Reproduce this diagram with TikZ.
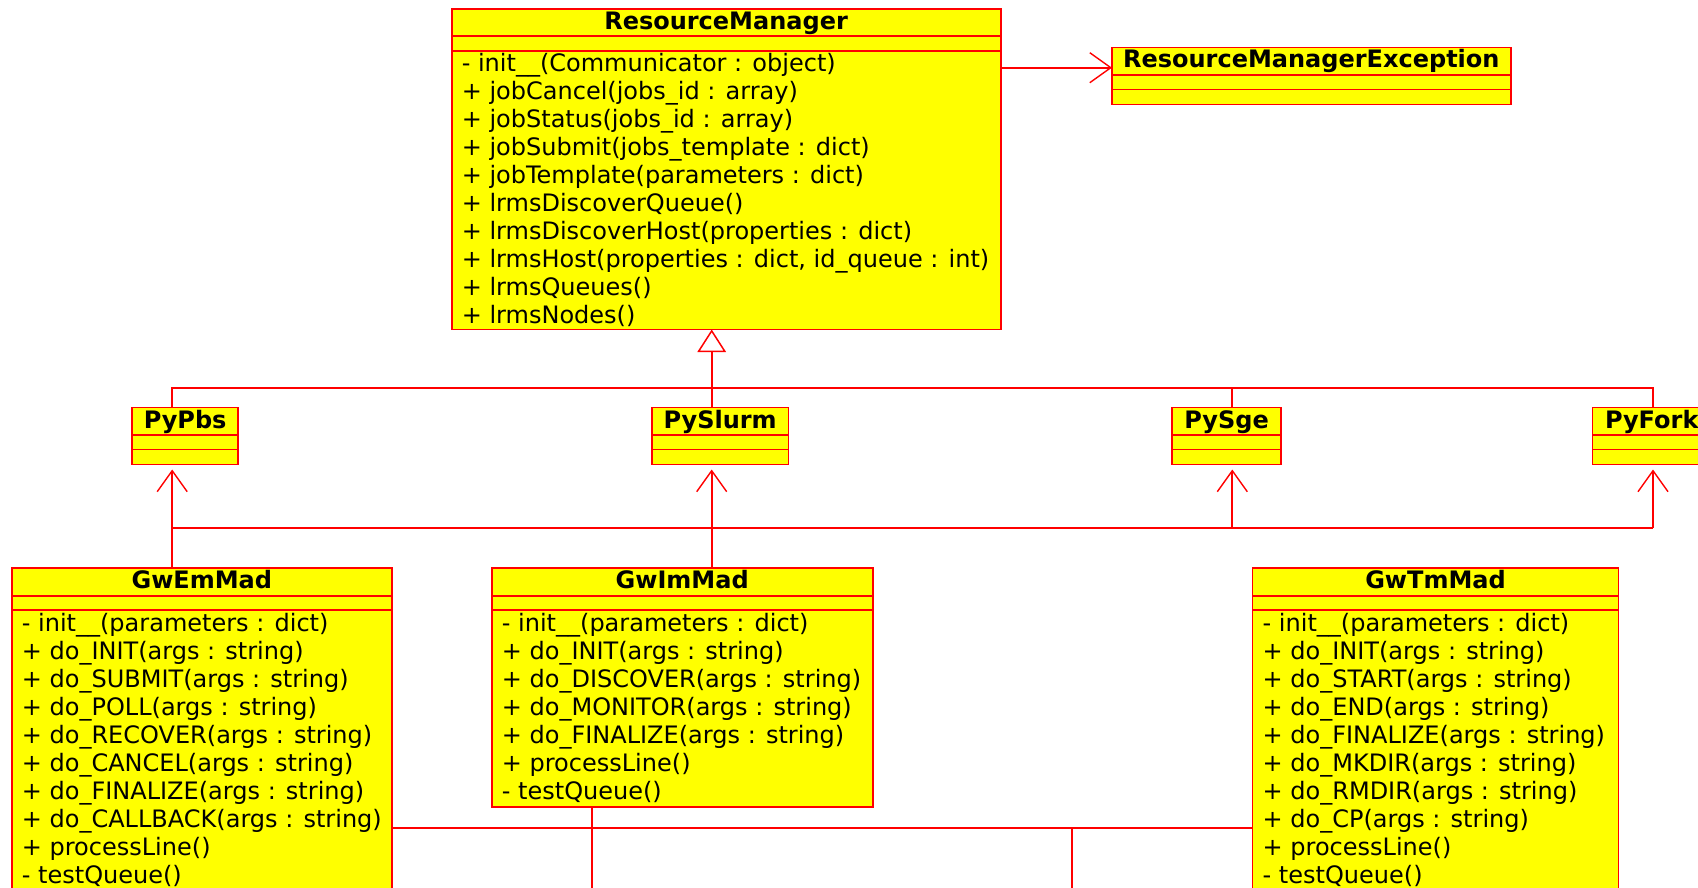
\documentclass[tikz,border=0pt]{standalone}
\usepackage{fontspec}
\setmainfont{DejaVu Sans}
\usetikzlibrary{arrows.meta,calc}
\definecolor{umlred}{RGB}{255,0,0}
\definecolor{umlyellow}{RGB}{255,255,0}

% One UML class: name, left, top, right, bottom, title
\newcommand{\umlclass}[6]{%
  \node[umlbox, minimum width={(#4-#2)*1pt}, minimum height={(#5-#3)*1pt}] (#1) at (#2,#3) {};
  \draw[divider] ($(#1.north west)+(0,27.5)$) -- ($(#1.north east)+(0,27.5)$);
  \draw[divider] ($(#1.north west)+(0,42)$) -- ($(#1.north east)+(0,42)$);
  \node[titletext] (#1-title) at ($(#1.north)+(0,20.5)$) {#6};
}
% Operations of a class, one per line
\newcommand{\umlops}[2]{%
  \foreach \optext [count=\k] in {#2}
    \node[optext] (#1-op\k) at ($(#1.north west)+(10,{63+28*(\k-1)})$) {\optext};
}

\begin{document}
\begin{tikzpicture}[x=1pt,y=-1pt,
  umlbox/.style={draw=umlred, fill=umlyellow, line width=1.8pt, inner sep=0pt, outer sep=0pt, anchor=north west},
  divider/.style={draw=umlred, line width=1.8pt},
  titletext/.style={anchor=base, inner sep=0pt, font=\fontsize{24}{28}\selectfont\bfseries},
  optext/.style={anchor=base west, inner sep=0pt, font=\fontsize{24}{28}\selectfont},
  conn/.style={draw=umlred, line width=1.8pt},
  assoc/.style={conn, -{Straight Barb[length=21pt, width=30pt, line width=1.4pt]}},
  dep/.style={assoc, shorten >=5pt},
  gen/.style={conn, -{Triangle[length=22.5pt, width=28.5pt, fill=white, line width=1.5pt]}}]

\useasboundingbox (0,0) rectangle (1698,888);
\clip (0,0) rectangle (1698,888);

% classes
\umlclass{rm}{451.6}{8.7}{1000.6}{329.5}{ResourceManager}
\umlops{rm}{{- init\_\_(Communicator : object)},
  {+ jobCancel(jobs\_id : array)},
  {+ jobStatus(jobs\_id : array)},
  {+ jobSubmit(jobs\_template : dict)},
  {+ jobTemplate(parameters : dict)},
  {+ lrmsDiscoverQueue()},
  {+ lrmsDiscoverHost(properties : dict)},
  {+ lrmsHost(properties : dict, id\_queue : int)},
  {+ lrmsQueues()},
  {+ lrmsNodes()}}

\umlclass{exc}{1112}{47.5}{1510.6}{104.5}{ResourceManagerException}

\umlclass{pypbs}{132.1}{407.5}{238.2}{464.5}{PyPbs}
\umlclass{pyslurm}{651.9}{407.5}{788.4}{464.5}{PySlurm}
\umlclass{pysge}{1172.3}{407.5}{1281}{464.5}{PySge}
\umlclass{pyfork}{1592.5}{407.5}{1711}{464.5}{PyFork}

\umlclass{gwem}{11.7}{568.3}{392}{900}{GwEmMad}
\umlops{gwem}{{- init\_\_(parameters : dict)},
  {+ do\_INIT(args : string)},
  {+ do\_SUBMIT(args : string)},
  {+ do\_POLL(args : string)},
  {+ do\_RECOVER(args : string)},
  {+ do\_CANCEL(args : string)},
  {+ do\_FINALIZE(args : string)},
  {+ do\_CALLBACK(args : string)},
  {+ processLine()},
  {- testQueue()}}

\umlclass{gwim}{491.7}{568.3}{872.7}{806.7}{GwImMad}
\umlops{gwim}{{- init\_\_(parameters : dict)},
  {+ do\_INIT(args : string)},
  {+ do\_DISCOVER(args : string)},
  {+ do\_MONITOR(args : string)},
  {+ do\_FINALIZE(args : string)},
  {+ processLine()},
  {- testQueue()}}

\umlclass{gwtm}{1252.5}{568.3}{1618.5}{900}{GwTmMad}
\umlops{gwtm}{{- init\_\_(parameters : dict)},
  {+ do\_INIT(args : string)},
  {+ do\_START(args : string)},
  {+ do\_END(args : string)},
  {+ do\_FINALIZE(args : string)},
  {+ do\_MKDIR(args : string)},
  {+ do\_RMDIR(args : string)},
  {+ do\_CP(args : string)},
  {+ processLine()},
  {- testQueue()}}

% routing lanes
\coordinate (xa) at (172.2,0);
\coordinate (xb) at (711.7,0);
\coordinate (xc) at (1232.3,0);
\coordinate (xd) at (1653,0);
\coordinate (xe) at (592.3,0);
\coordinate (xf) at (1072.3,0);
\coordinate (yexc) at (0,67.7);
\coordinate (yup) at (0,388);
\coordinate (ylow) at (0,527.7);
\coordinate (ybot) at (0,827.7);
\coordinate (yedge) at (0,888);

% association to the exception
\draw[assoc] (yexc -| rm.east) -- (yexc -| exc.west);

% generalisation of the resource managers
\draw[gen] (xb |- pyslurm.north) -- (xb |- rm.south);
\draw[conn] (xa |- pypbs.north) -- (xa |- yup) -- (xd |- yup) -- (xd |- pyfork.north);
\draw[conn] (xc |- yup) -- (xc |- pysge.north);

% dependencies of the MADs
\draw[dep] (xa |- gwem.north) -- (xa |- pypbs.south);
\draw[dep] (xb |- gwim.north) -- (xb |- pyslurm.south);
\draw[conn] (xa |- ylow) -- (xd |- ylow);
\draw[dep] (xc |- ylow) -- (xc |- pysge.south);
\draw[dep] (xd |- ylow) -- (xd |- pyfork.south);

% lower links
\draw[conn] (ybot -| gwem.east) -- (ybot -| gwtm.west);
\draw[conn] (xe |- gwim.south) -- (xe |- yedge);
\draw[conn] (xf |- ybot) -- (xf |- yedge);

\end{tikzpicture}
\end{document}
